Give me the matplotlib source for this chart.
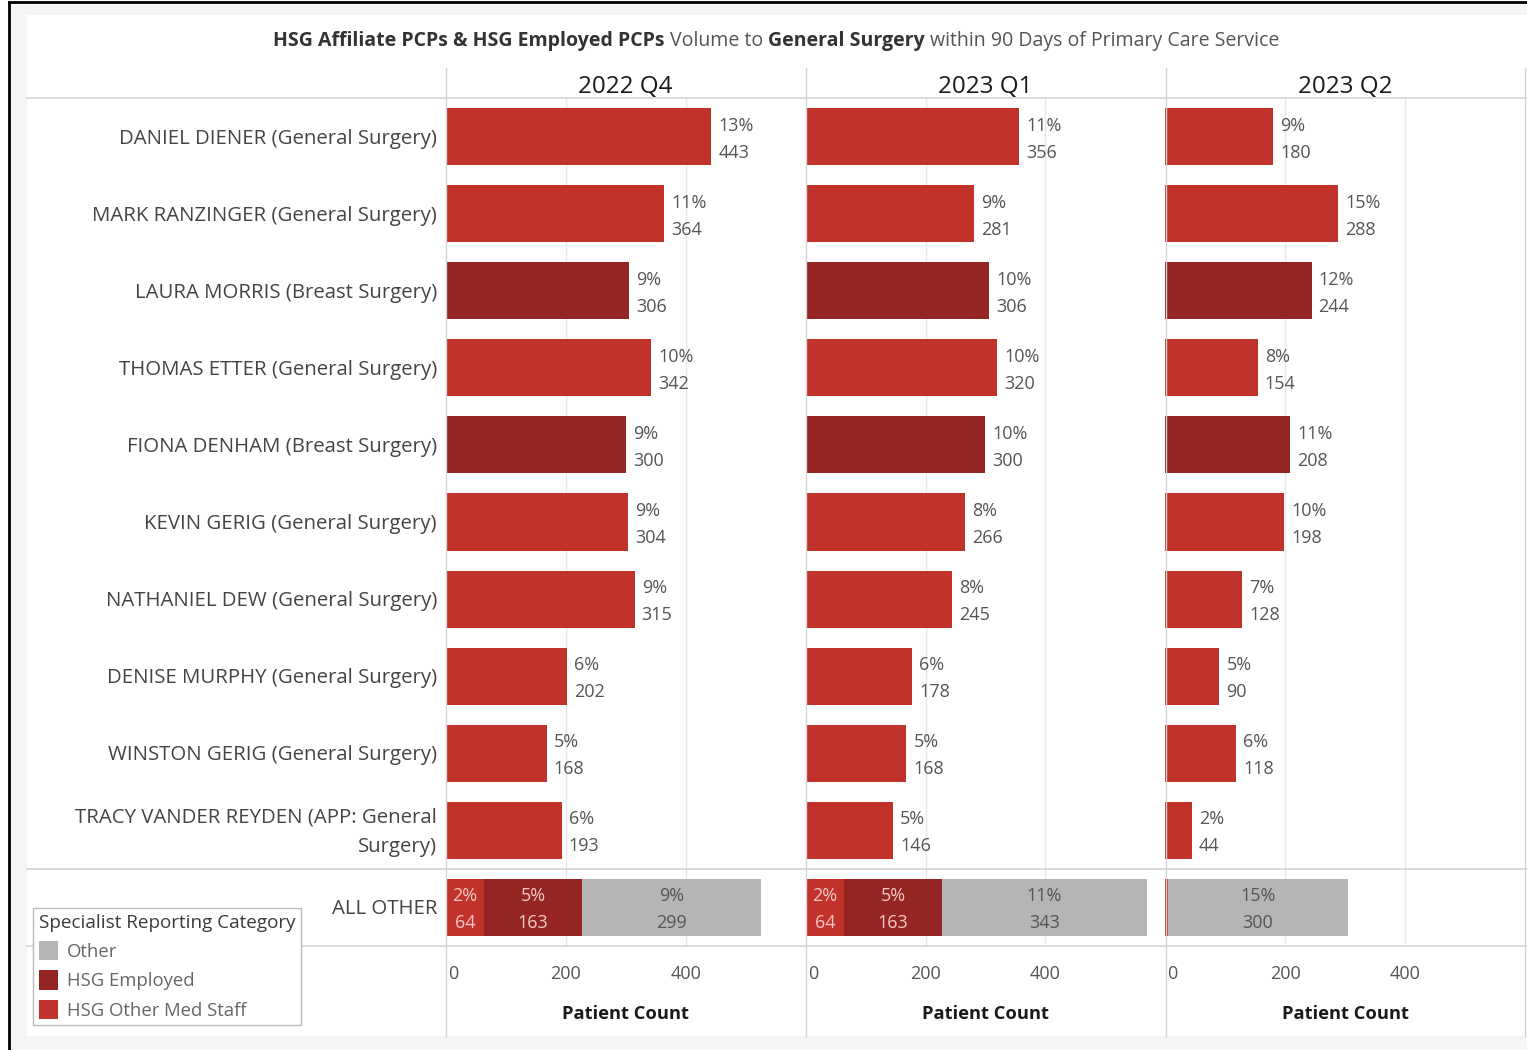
import matplotlib
matplotlib.use("Agg")
import matplotlib.pyplot as plt
from matplotlib.patches import Patch, Rectangle
from matplotlib.lines import Line2D
from matplotlib import font_manager as fm
import os

W, H = 1527, 1050


def pick_family(cands):
    for f in cands:
        try:
            p = fm.findfont(fm.FontProperties(family=f, weight="bold"), fallback_to_default=False)
            if "bold" in os.path.basename(p).lower():
                return f
        except Exception:
            pass
    return cands[0]


FONT = pick_family(["Noto Sans", "Open Sans", "Lato", "Roboto"])
plt.rcParams['font.family'] = [FONT, 'DejaVu Sans']

# ---------------- data ----------------
names = [
    "DANIEL DIENER (General Surgery)",
    "MARK RANZINGER (General Surgery)",
    "LAURA MORRIS (Breast Surgery)",
    "THOMAS ETTER (General Surgery)",
    "FIONA DENHAM (Breast Surgery)",
    "KEVIN GERIG (General Surgery)",
    "NATHANIEL DEW (General Surgery)",
    "DENISE MURPHY (General Surgery)",
    "WINSTON GERIG (General Surgery)",
    "TRACY VANDER REYDEN (APP: General\nSurgery)",
]
name_category = ["HSG Other Med Staff", "HSG Other Med Staff", "HSG Employed",
                 "HSG Other Med Staff", "HSG Employed", "HSG Other Med Staff",
                 "HSG Other Med Staff", "HSG Other Med Staff", "HSG Other Med Staff",
                 "HSG Other Med Staff"]
quarters = ["2022 Q4", "2023 Q1", "2023 Q2"]

counts_q4 = [443, 364, 306, 342, 300, 304, 315, 202, 168, 193]
pcts_q4 = [13, 11, 9, 10, 9, 9, 9, 6, 5, 6]
counts_q1 = [356, 281, 306, 320, 300, 266, 245, 178, 168, 146]
pcts_q1 = [11, 9, 10, 10, 10, 8, 8, 6, 5, 5]
counts_q2 = [180, 288, 244, 154, 208, 198, 128, 90, 118, 44]
pcts_q2 = [9, 15, 12, 8, 11, 10, 7, 5, 6, 2]

other_label = "ALL OTHER"
other_categories = ["HSG Other Med Staff", "HSG Employed", "Other"]
other_counts_q4 = [64, 163, 299]
other_pcts_q4 = [2, 5, 9]
other_counts_q1 = [64, 163, 343]
other_pcts_q1 = [2, 5, 11]
other_counts_q2 = [4, 0, 300]
other_pcts_q2 = [None, None, 15]

x_ticks = [0, 200, 400]

# ---------------- style ----------------
colors = {"Other": "#B5B5B5", "HSG Employed": "#952522", "HSG Other Med Staff": "#C1322A"}
label_color = "#555555"
inside_red_text = "#F6C9C3"
grid_color = "#E8E8E8"
sep_color = "#D4D4D4"

fig = plt.figure(figsize=(W / 100, H / 100), dpi=100)
fig.patch.set_facecolor("white")
renderer = fig.canvas.get_renderer()


def fx(x):
    return x / W


def fy(y):
    return 1 - y / H


def fit_size(text, weight, target_px, base=14.0):
    t = fig.text(0, 0, text, fontsize=base, fontweight=weight)
    w = t.get_window_extent(renderer).width
    t.remove()
    return base * target_px / w


# background frame
fig.patches.append(Rectangle((fx(10), 0), 1 - fx(10), fy(3), transform=fig.transFigure,
                             facecolor="#F5F5F5", edgecolor="none", zorder=-10))
fig.patches.append(Rectangle((fx(27), fy(1036)), 1 - fx(27), fy(15) - fy(1036),
                             transform=fig.transFigure, facecolor="white", edgecolor="none", zorder=-9))
fig.lines.append(Line2D([fx(9), fx(9)], [0, fy(2)], transform=fig.transFigure, color="black", lw=2))
fig.lines.append(Line2D([fx(9), 1], [fy(2), fy(2)], transform=fig.transFigure, color="black", lw=2))

for yy in [98, 869, 946]:
    fig.lines.append(Line2D([fx(27), 1], [fy(yy), fy(yy)], transform=fig.transFigure,
                            color=sep_color, lw=1.2, zorder=1))
for xx in [446, 805.5, 1165.5, 1525]:
    fig.lines.append(Line2D([fx(xx), fx(xx)], [fy(68), fy(1036)], transform=fig.transFigure,
                            color=sep_color, lw=1.0, zorder=1))

panel_counts = [counts_q4, counts_q1, counts_q2]
panel_pcts = [pcts_q4, pcts_q1, pcts_q2]
panel_other_counts = [other_counts_q4, other_counts_q1, other_counts_q2]
panel_other_pcts = [other_pcts_q4, other_pcts_q1, other_pcts_q2]

# font sizes fitted to reference text widths
FS_ROW = fit_size("DANIEL DIENER (General Surgery)", "normal", 318)
FS = fit_size("443", "normal", 31)
FS_HEAD = fit_size("2022 Q4", "normal", 95)
FS_PC = fit_size("Patient Count", "bold", 128)
FS_LEGT = fit_size("Specialist Reporting Category", "normal", 258)
FS_LEG = fit_size("HSG Other Med Staff", "normal", 181)

PX_PER_UNIT = 359.5 / 600
ROW_PX = 77.09
n = len(names)
bar_h = 0.74
dy_top = -11.0 / ROW_PX
dy_bot = 16.0 / ROW_PX
offset_units = 7 / PX_PER_UNIT

axes = []
for k in range(3):
    left = 446 + 359.7 * k
    ax = fig.add_axes([fx(left), fy(946), fx(359.5), fy(98) - fy(946)])
    ax.set_xlim(0, 600)
    ax.set_ylim(n + 0.5, -0.5)
    ax.set_facecolor("none")
    for s in ax.spines.values():
        s.set_visible(False)
    ax.set_xticks([])
    ax.set_yticks([])
    for t in x_ticks[1:]:
        ax.axvline(t, color=grid_color, lw=1.0, zorder=0)

    cnts = panel_counts[k]
    pcts = panel_pcts[k]
    for i in range(n):
        ax.barh(i, cnts[i], height=bar_h, color=colors[name_category[i]], zorder=2)
        ax.text(cnts[i] + offset_units, i + dy_top, f"{pcts[i]}%", ha="left", va="center",
                fontsize=FS, color=label_color)
        ax.text(cnts[i] + offset_units, i + dy_bot, f"{cnts[i]}", ha="left", va="center",
                fontsize=FS, color=label_color)

    left_val = 0
    oc = panel_other_counts[k]
    op = panel_other_pcts[k]
    for cat, c, p in zip(other_categories, oc, op):
        if c > 0:
            ax.barh(n, c, left=left_val, height=bar_h, color=colors[cat], zorder=2)
            if p is not None:
                tc = "#555555" if cat == "Other" else inside_red_text
                cx = left_val + c / 2
                ax.text(cx, n + dy_top, f"{p}%", ha="center", va="center", fontsize=FS, color=tc, zorder=3)
                ax.text(cx, n + dy_bot, f"{c}", ha="center", va="center", fontsize=FS, color=tc, zorder=3)
        left_val += c

    fig.text(fx(left + 179.75), fy(87), quarters[k], ha="center", va="center",
             fontsize=FS_HEAD, color="#1A1A1A")
    for t in x_ticks:
        xpix = left + t * PX_PER_UNIT
        if t == 0:
            fig.text(fx(xpix + 2), fy(974), str(t), ha="left", va="center", fontsize=FS, color=label_color)
        else:
            fig.text(fx(xpix), fy(974), str(t), ha="center", va="center", fontsize=FS, color=label_color)
    fig.text(fx(left + 179.75), fy(1014), "Patient Count", ha="center", va="center",
             fontsize=FS_PC, fontweight="bold", color="#1A1A1A")
    axes.append(ax)

ax0 = axes[0]
ytr = ax0.get_yaxis_transform()
for i, nm in enumerate(names + [other_label]):
    ax0.text(-9 / 359.5, i + 2.0 / ROW_PX, nm, transform=ytr, ha="right", va="center", fontsize=FS_ROW,
             color="#444444", linespacing=1.6, multialignment="right")

# title with mixed weights
parts = [("HSG Affiliate PCPs & HSG Employed PCPs", "bold", "#333333"),
         ("Volume to", "normal", "#555555"),
         ("General Surgery", "bold", "#333333"),
         ("within 90 Days of Primary Care Service", "normal", "#555555")]


def layout_title(size):
    ts, ws = [], []
    for s, w, c in parts:
        t = fig.text(0, fy(41), s, fontsize=size, fontweight=w, color=c, ha="left", va="center")
        ts.append(t)
        ws.append(t.get_window_extent(renderer).width)
    p1 = fig.text(0, 0, "a a", fontsize=size)
    p2 = fig.text(0, 0, "aa", fontsize=size)
    g = p1.get_window_extent(renderer).width - p2.get_window_extent(renderer).width
    p1.remove()
    p2.remove()
    return ts, ws, g


ts, ws, g = layout_title(12.0)
tot = sum(ws) + g * (len(parts) - 1)
for t in ts:
    t.remove()
TFS = 12.0 * 1004 / tot
ts, ws, g = layout_title(TFS)
tot = sum(ws) + g * (len(parts) - 1)
x0 = 776 - tot / 2
for t, wdt in zip(ts, ws):
    t.set_x(fx(x0))
    x0 += wdt + g

handles = [Patch(facecolor=colors[c], edgecolor="none") for c in ["Other", "HSG Employed", "HSG Other Med Staff"]]
leg = fig.legend(handles, ["Other", "HSG Employed", "HSG Other Med Staff"],
                 title="Specialist Reporting Category", loc="upper left",
                 bbox_to_anchor=(fx(33), fy(908)), borderaxespad=0, frameon=True,
                 fancybox=False, edgecolor="#BBBBBB", framealpha=1, fontsize=FS_LEG,
                 title_fontsize=FS_LEGT, alignment="left", handlelength=1.05, handleheight=1.25,
                 handletextpad=0.5, labelspacing=0.5, borderpad=0.3)
for t in leg.get_texts():
    t.set_color("#666666")
leg.get_title().set_color("#3A3A3A")
leg.get_frame().set_linewidth(1.0)

fig.savefig("out.png", dpi=100)
